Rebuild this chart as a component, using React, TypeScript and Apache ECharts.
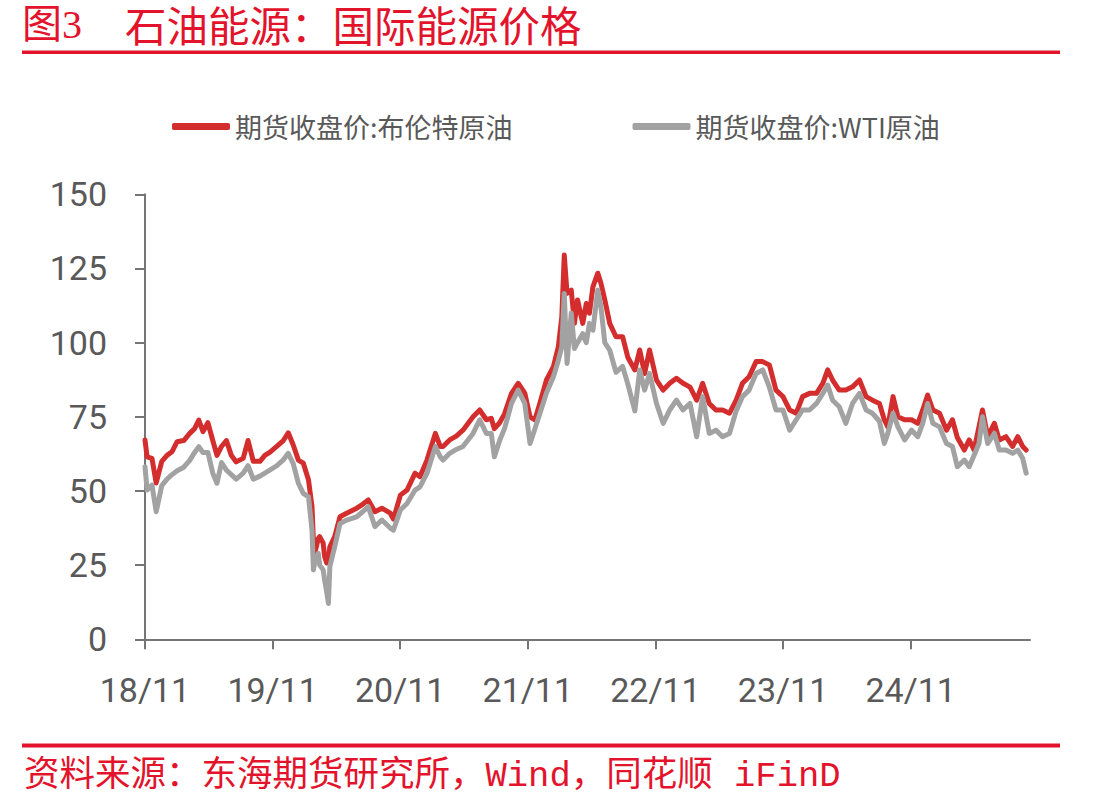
import React, { useEffect, useRef } from "react";
import * as echarts from "echarts";

// Observation dates (roughly twice a month) and closing prices, USD/bbl
const dates = [
  "2018-11-01", "2018-11-07", "2018-11-21", "2018-12-03", "2018-12-19",
  "2019-01-03", "2019-01-17", "2019-02-01", "2019-02-20", "2019-03-09",
  "2019-03-23", "2019-04-04", "2019-04-16", "2019-04-30", "2019-05-14",
  "2019-05-26", "2019-06-08", "2019-06-22", "2019-07-06", "2019-07-20",
  "2019-08-09", "2019-08-23", "2019-09-07", "2019-09-26", "2019-10-10",
  "2019-10-24", "2019-11-13", "2019-12-02", "2019-12-16", "2019-12-30",
  "2020-01-14", "2020-01-28", "2020-02-12", "2020-02-22", "2020-02-26",
  "2020-03-01", "2020-03-11", "2020-03-15", "2020-03-25", "2020-03-29",
  "2020-04-04", "2020-04-09", "2020-04-13", "2020-04-27", "2020-05-12",
  "2020-05-31", "2020-06-29", "2020-07-16", "2020-08-01", "2020-08-20",
  "2020-09-09", "2020-10-03", "2020-10-12", "2020-11-01", "2020-11-20",
  "2020-12-13", "2020-12-27", "2021-01-16", "2021-02-09", "2021-02-23",
  "2021-03-03", "2021-03-22", "2021-04-10", "2021-04-29", "2021-05-28",
  "2021-06-16", "2021-07-05", "2021-07-19", "2021-07-28", "2021-08-12",
  "2021-08-26", "2021-09-15", "2021-10-04", "2021-10-23", "2021-11-07",
  "2021-11-21", "2021-12-05", "2021-12-24", "2022-01-13", "2022-01-27",
  "2022-02-06", "2022-02-13", "2022-02-21", "2022-03-05", "2022-03-14",
  "2022-03-23", "2022-04-07", "2022-04-17", "2022-04-26", "2022-05-06",
  "2022-05-20", "2022-05-29", "2022-06-09", "2022-06-23", "2022-07-11",
  "2022-07-30", "2022-08-14", "2022-09-03", "2022-09-17", "2022-10-01",
  "2022-10-15", "2022-11-04", "2022-11-23", "2022-12-12", "2022-12-31",
  "2023-01-19", "2023-02-08", "2023-02-27", "2023-03-16", "2023-04-04",
  "2023-04-23", "2023-05-12", "2023-06-01", "2023-06-20", "2023-07-08",
  "2023-07-27", "2023-08-16", "2023-09-04", "2023-09-23", "2023-10-12",
  "2023-11-01", "2023-11-20", "2023-12-09", "2023-12-27", "2024-01-16",
  "2024-02-05", "2024-02-23", "2024-03-08", "2024-03-22", "2024-04-10",
  "2024-04-29", "2024-05-18", "2024-06-07", "2024-06-26", "2024-07-14",
  "2024-08-03", "2024-08-17", "2024-08-27", "2024-09-11", "2024-09-25",
  "2024-10-14", "2024-11-03", "2024-11-21", "2024-12-05", "2024-12-19",
  "2025-01-03", "2025-01-22", "2025-02-11", "2025-02-28", "2025-03-14",
  "2025-04-03", "2025-04-17", "2025-05-01", "2025-05-15", "2025-05-25",
  "2025-06-09", "2025-06-28", "2025-07-12", "2025-07-31", "2025-08-19",
  "2025-09-03", "2025-09-17", "2025-09-27",
];

const brent = [
  67.2, 61.5, 61, 52.7, 60,
  62, 63.2, 66.6, 67, 69.4,
  71, 73.9, 70, 73, 67,
  62, 65, 67, 62, 59.8,
  61, 67, 60, 60, 62,
  63, 65, 67, 69.6, 65.6,
  60.4, 59.4, 53.7, 44.7, 33.5,
  29, 34, 34.6, 32.4, 28,
  25.7, 27, 31.2, 34.6, 41.3,
  42.5, 44.2, 45.5, 47, 43,
  44.2, 42.5, 40.5, 48.6, 50.3,
  56, 54.8, 60.4, 69.4, 65,
  65, 67.2, 68.5, 70.5, 75,
  77.3, 74, 74.5, 71, 73,
  76, 82.9, 86.3, 83, 75,
  74, 79.5, 87.4, 91.9, 98.6,
  108.7, 129.5, 116.6, 117.7, 106.5,
  114.4, 106.5, 113.2, 109.9, 118.8,
  123.4, 120, 114.4, 106.5, 102,
  102, 95, 90.8, 97.5, 89.6,
  97.5, 87.4, 84, 86.3, 88,
  86.3, 85, 80.6, 86.3, 79.5,
  77.3, 77.3, 76.2, 80.6, 86.3,
  88.5, 93.6, 93.6, 92.5, 84,
  81.8, 77.3, 76.2, 81.8, 82.9,
  82.9, 86.3, 90.8, 87.4, 84,
  84, 85.1, 87.4, 81.8, 80.6,
  79.5, 74, 71.6, 81.8, 75,
  74, 74, 72.8, 77.3, 82.3,
  77.3, 76.2, 70.5, 74, 68,
  63.8, 67.2, 63.8, 71.6, 77.3,
  68.3, 72.8, 67.2, 68.3, 65,
  68.3, 65, 63.8,
];

const wti = [
  58.2, 50.3, 52, 43, 51.8,
  54, 55.5, 56.8, 58, 60.3,
  63, 64.9, 63, 63, 56,
  52.6, 59.6, 57, 55.5, 54,
  56, 58.5, 54, 55, 56,
  57, 58.5, 60.5, 62.7, 59.3,
  52.6, 49.2, 48, 36.8, 23.4,
  26, 29, 25, 23.4, 20,
  16, 12.1, 24.5, 31.2, 39,
  40.2, 41.3, 43, 44.7, 38,
  40.2, 37.5, 36.8, 43.6, 45.8,
  50.3, 51.4, 55.9, 65, 61.5,
  60.4, 62.7, 64, 65, 69.4,
  74, 69.4, 69.4, 61.5, 67,
  71, 79.5, 84, 79.5, 66,
  71, 76, 83, 88.5, 94,
  98.6, 116.6, 93, 110, 98,
  100, 103, 100, 106.5, 104.2,
  117.7, 112, 100, 97.5, 90,
  92, 86, 77, 90.8, 84,
  89.6, 79.5, 72.8, 77.3, 80.6,
  77.3, 79.5, 68.3, 81.8, 69.4,
  70.5, 68.3, 69.4, 77, 81.8,
  84, 89.6, 90.8, 85, 77.3,
  77.3, 70.5, 74, 77.3, 77.3,
  79.5, 82.9, 85.7, 80.6, 78.4,
  72.8, 79.5, 82.9, 77.3, 76.2,
  73.5, 66, 69.4, 76.2, 71.6,
  67.2, 70.5, 68.3, 72.8, 79.5,
  72.8, 71.6, 66, 65, 58.2,
  60.4, 58.2, 62, 66, 75,
  66, 69.4, 63.8, 63.8, 62.7,
  63.8, 61, 56,
];

// Year-ticks on the time axis, one per November
const xTickLabels = ["18/11", "19/11", "20/11", "21/11", "22/11", "23/11", "24/11"];
const axisStart = "2018-11-01";
const axisEnd = "2025-10-08";

const seriesNames = ["期货收盘价:布伦特原油", "期货收盘价:WTI原油"];

const YEAR_MS = 365.25 * 86400000;
const toYears = (d: string) => (Date.parse(d) - Date.parse(axisStart)) / YEAR_MS;

const RED = "#e3132c";
const NUM_FONT = "'Liberation Sans Narrow', 'Roboto', 'Liberation Sans', sans-serif";
const CJK_FONT = "'Noto Sans CJK SC', sans-serif";
const AXIS_GREY = "#757575";

export default function App() {
  const ref = useRef<HTMLDivElement>(null);

  useEffect(() => {
    if (!ref.current) return;
    const chart = echarts.init(ref.current, null, { renderer: "svg" });
    const xs = dates.map(toYears);
    const tickIdx = xTickLabels.map((_, i) => i);

    chart.setOption({
      animation: false,
      backgroundColor: "#ffffff",
      grid: {
        left: 145,
        right: 79,
        top: 194.3,
        bottom: 169.7,
        containLabel: false,
        outerBoundsMode: "none",
      },
      legend: {
        left: 172,
        top: 113,
        padding: 0,
        itemGap: 120,
        itemWidth: 58,
        itemHeight: 7,
        icon: "roundRect",
        textStyle: { fontSize: 27, color: "#595959", fontFamily: CJK_FONT },
        data: seriesNames,
      },
      xAxis: {
        type: "value",
        min: 0,
        max: toYears(axisEnd),
        interval: 1,
        axisLine: { show: true, lineStyle: { color: AXIS_GREY, width: 2 } },
        axisTick: {
          show: true,
          length: 10,
          customValues: tickIdx,
          lineStyle: { color: AXIS_GREY, width: 2 },
        },
        axisLabel: {
          customValues: tickIdx,
          formatter: (v: number) => xTickLabels[Math.round(v)] ?? "",
          fontSize: 34,
          color: "#595959",
          fontFamily: NUM_FONT,
          margin: 34,
        },
        splitLine: { show: false },
      },
      yAxis: {
        type: "value",
        min: 0,
        max: 150,
        interval: 25,
        axisLine: { show: true, lineStyle: { color: AXIS_GREY, width: 2 } },
        axisTick: { show: true, length: 10, lineStyle: { color: AXIS_GREY, width: 2 } },
        axisLabel: {
          fontSize: 34,
          color: "#595959",
          fontFamily: NUM_FONT,
          margin: 38,
        },
        splitLine: { show: false },
      },
      series: [
        {
          name: seriesNames[0],
          type: "line",
          symbol: "none",
          color: "#d42d2d",
          lineStyle: { width: 5, color: "#d42d2d", join: "round", cap: "round" },
          data: xs.map((x, i) => [x, brent[i]]),
        },
        {
          name: seriesNames[1],
          type: "line",
          symbol: "none",
          color: "#a2a2a2",
          lineStyle: { width: 5, color: "#a2a2a2", join: "round", cap: "round" },
          data: xs.map((x, i) => [x, wti[i]]),
        },
      ],
      graphic: [
        {
          type: "text",
          x: 22,
          y: 4,
          style: {
            text: "图3",
            fill: RED,
            fontSize: 40,
            fontFamily: "'Liberation Serif', 'Noto Sans CJK SC', serif",
            verticalAlign: "top",
          },
        },
        {
          type: "text",
          x: 125,
          y: 3,
          style: {
            text: "石油能源：国际能源价格",
            fill: RED,
            fontSize: 41.5,
            fontFamily: CJK_FONT,
            verticalAlign: "top",
          },
        },
        {
          type: "rect",
          shape: { x: 22, y: 50.5, width: 1038, height: 3.5 },
          style: { fill: RED },
        },
        {
          type: "rect",
          shape: { x: 22, y: 743.5, width: 1038, height: 4 },
          style: { fill: RED },
        },
        {
          type: "text",
          x: 24,
          y: 776,
          style: {
            text: "资料来源：东海期货研究所，Wind，同花顺 iFinD",
            fill: RED,
            fontSize: 35.5,
            fontFamily: "'Liberation Mono', 'Noto Sans CJK SC', monospace",
            verticalAlign: "middle",
          },
        },
      ],
    });

    return () => chart.dispose();
  }, []);

  return (
    <div
      ref={ref}
      style={{ position: "absolute", left: 0, top: 0, width: 1109, height: 809, background: "#fff" }}
    />
  );
}
